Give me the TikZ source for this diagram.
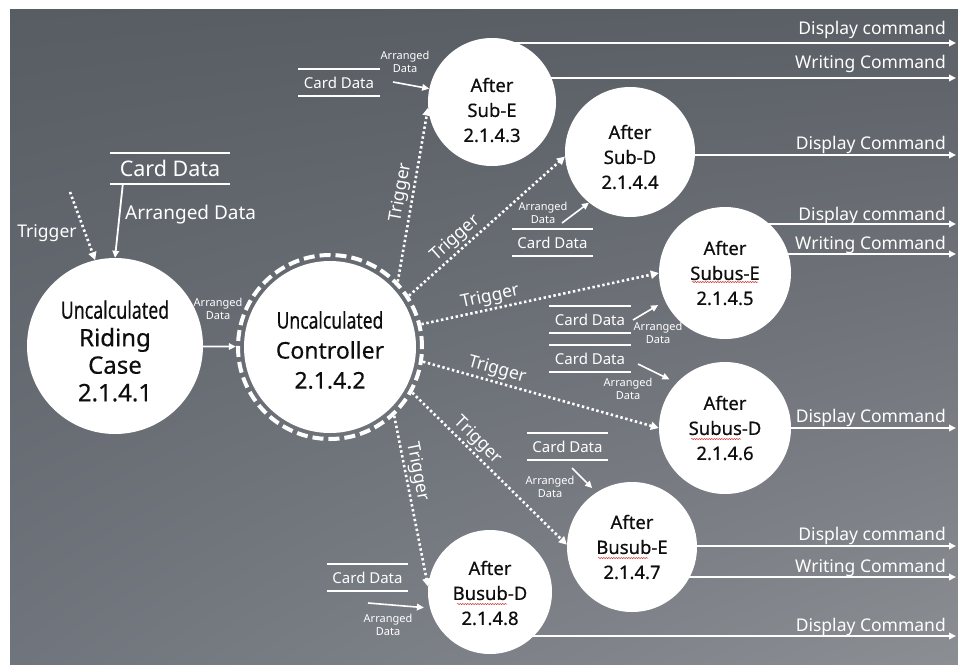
\documentclass[tikz,border=0pt]{standalone}
\usepackage{fontspec}
\setmainfont{Noto Sans}
\newfontfamily\procfont[FakeBold=0.4]{Noto Sans}
\usetikzlibrary{arrows.meta,calc,decorations.pathmorphing,shadings}
\pgfdeclarelayer{bgl}
\pgfdeclarelayer{lines}
\pgfsetlayers{bgl,lines,main}
\definecolor{bgtl}{HTML}{585D64}
\definecolor{bgtr}{HTML}{5B5F66}
\definecolor{bgbl}{HTML}{70757D}
\definecolor{bgbr}{HTML}{8B8E93}
\definecolor{ink}{HTML}{0E0E0E}
\definecolor{squigred}{HTML}{D03030}
\tikzset{
  proc/.style={circle, fill=white, inner sep=0pt},
  ptext/.style={align=center, text=ink, inner sep=0pt, font=\procfont\fontsize{18.5}{25}\selectfont},
  arr/.style={white, line width=1.8pt, -{Triangle[length=7pt,width=6.5pt]}},
  trig/.style={white, line width=2.6pt, dash pattern=on 2.4pt off 2.6pt, -{Triangle[length=8pt,width=8pt]}},
  slbl/.style={white, inner sep=2pt, font=\fontsize{17.5}{17.5}\selectfont},
  tinylbl/.style={white, align=center, inner sep=0pt, font=\fontsize{11}{13}\selectfont},
  store/.style={white, inner sep=0pt, minimum width=81pt, minimum height=27pt, font=\fontsize{15}{15}\selectfont},
  storeline/.style={white, line width=1.6pt},
  outlbl/.style={white, anchor=base east, inner sep=0pt, font=\fontsize{17.5}{18}\selectfont},
  squig/.style={squigred, line width=0.5pt, decorate, decoration={snake, amplitude=0.6pt, segment length=2.5pt}},
  ringline/.style={white, line width=4pt, dash pattern=on 11pt off 5pt},
}
\begin{document}
\begin{tikzpicture}[x=1pt,y=-1pt]
\useasboundingbox (0,0) rectangle (958,664);
\begin{pgfonlayer}{bgl}
\fill[white] (0,0) rectangle (958,664);
\shade[upper left=bgtl, upper right=bgtr, lower left=bgbl, lower right=bgbr] (10,9) rectangle (958,664);
\end{pgfonlayer}

% process 1
\node[proc, minimum size=176pt] (n1) at (115,346) {};
\node[ptext, font=\procfont\fontsize{24}{27.5}\selectfont] (t1) at (115,351) {\scalebox{0.74}[1]{Uncalculated}\\Riding\\Case\\2.1.4.1};

% process 2 (controller)
\coordinate (c2) at (330,347);
\fill[white] (c2) circle (86pt);
\draw[ringline] (c2) circle (92pt);
\node[circle, minimum size=188pt, inner sep=0pt] (n2) at (c2) {};
\node[ptext, font=\procfont\fontsize{23}{30}\selectfont] (t2) at (330,350) {\scalebox{0.76}[1]{Uncalculated}\\Controller\\2.1.4.2};

% small processes
\node[proc, minimum size=128pt] (n3) at (492,102) {};
\node[ptext] (t3) at (492,110) {After\\Sub-E\\2.1.4.3};
\node[proc, minimum size=130pt] (n4) at (630,152) {};
\node[ptext] (t4) at (630,157) {After\\Sub-D\\2.1.4.4};
\node[proc, minimum size=132pt] (n5) at (725,273) {};
\node[ptext] (t5) at (725,273) {After\\Subus-E\\2.1.4.5};
\node[proc, minimum size=132pt] (n6) at (725,428) {};
\node[ptext] (t6) at (725,428) {After\\Subus-D\\2.1.4.6};
\node[proc, minimum size=130pt] (n7) at (632,547) {};
\node[ptext] (t7) at (632,547) {After\\Busub-E\\2.1.4.7};
\node[proc, minimum size=124pt] (n8) at (490,592) {};
\node[ptext] (t8) at (490,593) {After\\Busub-D\\2.1.4.8};

% spell-check squiggles
\draw[squig] ($(t5.center)+(-33,9)$) -- ++(66,0);
\draw[squig] ($(t6.center)+(-34,11)$) -- ++(50,0);
\draw[squig] ($(t7.center)+(-34,11)$) -- ++(50,0);
\draw[squig] ($(t8.center)+(-33,11)$) -- ++(50,0);

% main card data store
\node[store, minimum width=120pt, minimum height=31pt, font=\fontsize{21.5}{22}\selectfont] (cd1) at (170,168.5) {Card Data};
\draw[storeline, line width=1.9pt] (cd1.north west) -- (cd1.north east) (cd1.south west) -- (cd1.south east);
\draw[arr] ($(cd1.south west)+(13,0)$) -- (n1.north);
\node[white, anchor=west, inner sep=0pt, font=\fontsize{19}{19}\selectfont] (la0) at (125,215) {Arranged Data};

% trigger into process 1
\coordinate (t0) at (70,192);
\draw[trig] (t0) -- (n1.103);
\node[slbl] (lt0) at (47,233) {Trigger};

% process 1 -> controller
\draw[arr] (n1) -- (n2);
\node[tinylbl] (la1) at (218,309) {Arranged\\Data};

% triggers from controller
\draw[trig] (n2.44) -- node[slbl, sloped, above, pos=0.5] (lt1) {Trigger} (n3.185);
\draw[trig] (n2.33) -- node[slbl, sloped, above, pos=0.35] (lt2) {Trigger} (n4.184);
\draw[trig] (n2.14) -- node[slbl, sloped, above, pos=0.3] (lt3) {Trigger} (n5.180);
\draw[trig] (n2.-9) -- node[slbl, sloped, above, pos=0.3] (lt4) {Trigger} (n6.180);
\draw[trig] (n2.-29) -- node[slbl, sloped, above, pos=0.37] (lt5) {Trigger} (n7.178);
\draw[trig] (n2.-47) -- node[slbl, sloped, above, pos=0.34] (lt6) {Trigger} (n8.175);

% small card data stores
\node[store] (cd3) at (339,82.5) {Card Data};
\node[store] (cd4) at (552.5,242.5) {Card Data};
\node[store] (cd5) at (590,319.5) {Card Data};
\node[store] (cd6) at (590,358.5) {Card Data};
\node[store] (cd7) at (567.5,446.5) {Card Data};
\node[store] (cd8) at (367.5,577.5) {Card Data};
\foreach \s in {cd3,cd4,cd5,cd6,cd7,cd8}{
  \draw[storeline] (\s.north west) -- (\s.north east) (\s.south west) -- (\s.south east);
}

% arranged data arrows into small processes
\coordinate (a3s) at (393,82);
\draw[arr, line width=1.6pt] (a3s) -- (n3.168);
\node[tinylbl] (la3) at (405,62) {Arranged\\Data};
\coordinate (a4s) at (562,223);
\draw[arr, line width=1.6pt] (a4s) -- (n4.231);
\node[tinylbl] (la4) at (543,213) {Arranged\\Data};
\coordinate (a5s) at (633,320);
\draw[arr, line width=1.6pt, shorten >=8pt] (a5s) -- (n5.205);
\node[tinylbl] (la5) at (658,333) {Arranged\\Data};
\coordinate (a6s) at (638,364);
\draw[arr, line width=1.6pt, shorten >=8pt] (a6s) -- (n6.137);
\node[tinylbl] (la6) at (628,389) {Arranged\\Data};
\coordinate (a7s) at (572,468);
\draw[arr, line width=1.6pt, shorten >=6pt] (a7s) -- (n7.123);
\node[tinylbl] (la7) at (550,487) {Arranged\\Data};
\coordinate (a8s) at (368,603);
\draw[arr, line width=1.6pt, shorten >=6pt] (a8s) -- (n8.195);
\node[tinylbl] (la8) at (388,625) {Arranged\\Data};

% outputs
\coordinate (o3a) at (956,43);
\coordinate (o3b) at (956,78);
\coordinate (o4) at (956,155);
\coordinate (o5a) at (956,224);
\coordinate (o5b) at (956,254);
\coordinate (o6) at (956,428);
\coordinate (o7a) at (956,546);
\coordinate (o7b) at (956,577);
\coordinate (o8) at (956,636);
\begin{pgfonlayer}{lines}
\draw[arr] (n3.center |- o3a) -- (o3a);
\draw[arr] (n3.center |- o3b) -- (o3b);
\draw[arr] (n4.center |- o4) -- (o4);
\draw[arr] (n5.center |- o5a) -- (o5a);
\draw[arr] (n5.center |- o5b) -- (o5b);
\draw[arr] (n6.center |- o6) -- (o6);
\draw[arr] (n7.center |- o7a) -- (o7a);
\draw[arr] (n7.center |- o7b) -- (o7b);
\draw[arr] (n8.center |- o8) -- (o8);
\end{pgfonlayer}
\node[outlbl] (lo3a) at (946,34) {Display command};
\node[outlbl] (lo3b) at (946,68) {Writing Command};
\node[outlbl] (lo4) at (946,149) {Display Command};
\node[outlbl] (lo5a) at (946,220) {Display command};
\node[outlbl] (lo5b) at (946,249) {Writing Command};
\node[outlbl] (lo6) at (946,422) {Display Command};
\node[outlbl] (lo7a) at (946,540) {Display command};
\node[outlbl] (lo7b) at (946,572) {Writing Command};
\node[outlbl] (lo8) at (946,631) {Display Command};
\end{tikzpicture}
\end{document}
